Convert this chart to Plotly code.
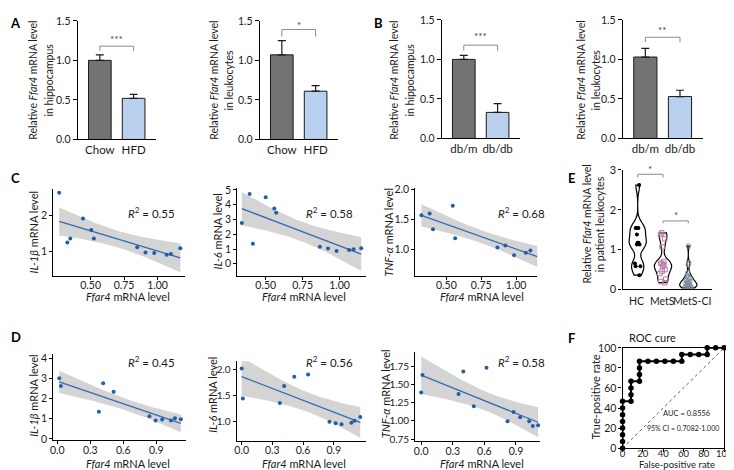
import numpy as np
import plotly.graph_objects as go

W, H = 734, 470
FONT = "Lato"
TXT = "#1a1a1a"

# ---------------- data ----------------
# Panel A (mean, SEM)
groups_A = ["Chow", "HFD"]
A_hippo_mean = [1.00, 0.52]
A_hippo_sem = [0.07, 0.05]
A_leuko_mean = [1.07, 0.61]
A_leuko_sem = [0.18, 0.07]
# Panel B
groups_B = ["db/m", "db/db"]
B_hippo_mean = [1.00, 0.33]
B_hippo_sem = [0.05, 0.11]
B_leuko_mean = [1.03, 0.53]
B_leuko_sem = [0.11, 0.08]

# Panel C (Ffar4 vs cytokines)
C_il1b_x = [0.265, 0.326, 0.348, 0.443, 0.505, 0.524, 0.848, 0.910, 0.975, 1.068, 1.100, 1.170]
C_il1b_y = [2.63, 1.24, 1.35, 1.91, 1.59, 1.35, 1.11, 0.96, 0.95, 0.90, 0.92, 1.08]
C_il6_x = [0.338, 0.391, 0.413, 0.500, 0.558, 0.571, 0.867, 0.922, 0.980, 1.065, 1.095, 1.147]
C_il6_y = [2.76, 4.73, 1.36, 4.51, 3.74, 3.46, 1.16, 1.03, 0.87, 0.93, 0.98, 1.05]
C_tnf_x = [0.321, 0.380, 0.404, 0.546, 0.563, 0.866, 0.923, 0.986, 1.070, 1.103, 1.157]
C_tnf_y = [1.57, 1.60, 1.34, 1.73, 1.19, 1.04, 1.07, 0.91, 0.95, 0.99, 0.95]
C_r2 = ["0.55", "0.58", "0.68"]

# Panel D
D_il1b_x = [0.018, 0.033, 0.378, 0.417, 0.512, 0.837, 0.893, 0.953, 1.033, 1.069, 1.122]
D_il1b_y = [3.01, 2.63, 1.35, 2.77, 2.34, 1.12, 0.91, 0.96, 0.91, 1.02, 0.98]
D_il6_x = [0.000, 0.012, 0.373, 0.415, 0.514, 0.649, 0.858, 0.918, 0.976, 1.072, 1.103, 1.159]
D_il6_y = [2.03, 1.45, 1.36, 1.69, 1.87, 1.91, 1.00, 0.97, 0.95, 0.98, 1.02, 1.09]
D_tnf_x = [0.000, 0.012, 0.355, 0.400, 0.500, 0.620, 0.820, 0.877, 0.940, 1.025, 1.060, 1.110]
D_tnf_y = [1.39, 1.63, 1.37, 1.68, 1.20, 1.73, 0.995, 1.12, 1.05, 0.995, 0.93, 0.94]
D_r2 = ["0.45", "0.56", "0.58"]

# Panel E (patient leukocytes)
E_groups = ["HC", "MetS", "MetS-CI"]
E_HC = [2.62, 1.54, 1.54, 1.54, 1.38, 1.17, 1.17, 1.13, 1.13, 0.65, 0.58, 0.58, 0.36]
E_MetS = [1.42, 1.38, 1.27, 1.07, 0.70, 0.66, 0.64, 0.62, 0.58, 0.50, 0.46, 0.40, 0.26, 0.20, 0.17]
E_MetSCI = [1.09, 0.67, 0.62, 0.42, 0.35, 0.30, 0.28, 0.25, 0.22, 0.20, 0.18, 0.16, 0.15,
            0.13, 0.12, 0.10, 0.09, 0.08, 0.07, 0.06, 0.05, 0.04]

# Panel F (ROC)
roc_fpr = [0, 0, 0, 0, 0, 0, 0, 0, 8.33, 8.33, 8.33, 8.33, 16.67, 16.67, 16.67, 16.67,
           25, 33.33, 41.67, 50, 58.33, 58.33, 66.67, 75, 83.33, 83.33, 91.67, 100]
roc_tpr = [0, 6.67, 13.33, 20, 26.67, 33.33, 40, 46.67, 46.67, 53.33, 60, 66.67, 66.67, 73.33, 80, 86.67,
           86.67, 86.67, 86.67, 86.67, 86.67, 93.33, 93.33, 93.33, 93.33, 100, 100, 100]

T95 = {8: 2.306, 9: 2.262, 10: 2.228, 11: 2.201, 12: 2.179}

# ---------------- figure ----------------
fig = go.Figure()
shapes = []
annos = []


def axis_pair(n, xpx, ypx, xrange, yrange, xt=None, yt=None):
    sx = "" if n == 1 else str(n)
    common = dict(showline=True, linecolor="black", linewidth=1.2, ticks="outside", ticklen=3,
                  tickwidth=1.1, tickcolor="black", showgrid=False, zeroline=False,
                  tickfont=dict(family=FONT, size=10.5, color=TXT), fixedrange=True)
    xa = dict(common, domain=[xpx[0] / W, xpx[1] / W], range=xrange, anchor="y" + sx)
    ya = dict(common, domain=[1 - ypx[1] / H, 1 - ypx[0] / H], range=yrange, anchor="x" + sx)
    if xt:
        xa.update(xt)
    if yt:
        ya.update(yt)
    fig.update_layout(**{"xaxis" + sx: xa, "yaxis" + sx: ya})
    return "x" + sx, "y" + sx


def ann(text, x, y, size=11, angle=0, bold=False, color=TXT, xanchor="center"):
    if bold:
        text = "<b>" + text + "</b>"
    annos.append(dict(text=text, x=x / W, y=1 - y / H, xref="paper", yref="paper", showarrow=False,
                      textangle=angle, xanchor=xanchor, yanchor="middle", borderpad=0,
                      font=dict(family=FONT, size=size, color=color)))


def bracket(xr, yr, x0, x1, ytop, ybot, text, ytext_px):
    ln = dict(color="#8c8c8c", width=1)
    shapes.append(dict(type="line", xref=xr, yref=yr, x0=x0, x1=x1, y0=ytop, y1=ytop, line=ln))
    shapes.append(dict(type="line", xref=xr, yref=yr, x0=x0, x1=x0, y0=ytop, y1=ybot, line=ln))
    shapes.append(dict(type="line", xref=xr, yref=yr, x0=x1, x1=x1, y0=ytop, y1=ybot, line=ln))
    annos.append(dict(text=text, x=(x0 + x1) / 2, y=1 - ytext_px / H, xref=xr, yref="paper",
                      showarrow=False, font=dict(family=FONT, size=10, color="#444"), yanchor="middle"))


BAR_COLORS = ["#737373", "#b9d1ee"]


def bar_panel(n, xpx, ypx, groups, mean, sem):
    xr, yr = axis_pair(n, xpx, ypx, [-0.65, 1.65], [0, 1.5],
                       xt=dict(type="category", ticks="", tickfont=dict(family=FONT, size=11.5, color=TXT)),
                       yt=dict(tickformat=".1f", dtick=0.5, ticklen=4))
    fig.add_trace(go.Bar(x=groups, y=mean, width=0.67, marker=dict(color=BAR_COLORS,
                         line=dict(color="#1a1a1a", width=1)),
                         error_y=dict(type="data", symmetric=False, array=sem, arrayminus=[0] * len(sem),
                                      color="#1a1a1a", thickness=1.2, width=4),
                         xaxis=xr, yaxis=yr))
    return xr, yr


# Panel A
xr, yr = bar_panel(1, (68, 147), (6, 128), groups_A, A_hippo_mean, A_hippo_sem)
bracket(xr, yr, 0, 1, 1.18, 1.12, "***", 25)
xr, yr = bar_panel(2, (253, 332), (6, 128), groups_A, A_leuko_mean, A_leuko_sem)
bracket(xr, yr, 0, 1, 1.39, 1.30, "*", 10)
# Panel B
xr, yr = bar_panel(3, (438, 517), (5, 127), groups_B, B_hippo_mean, B_hippo_sem)
bracket(xr, yr, 0, 1, 1.18, 1.11, "***", 22)
xr, yr = bar_panel(4, (622, 703), (5, 127), groups_B, B_leuko_mean, B_leuko_sem)
bracket(xr, yr, 0, 1, 1.28, 1.22, "**", 15)

for (x1, x2, yc, l2) in [(23, 39, 67, "in hippocampus"), (207, 222, 67, "in leukocytes"),
                         (390, 406, 67, "in hippocampus"), (580, 595, 67, "in leukocytes")]:
    ann("Relative <i>Ffar4</i> mRNA level", x1, yc, size=10.5, angle=-90)
    ann(l2, x2, yc, size=10.5, angle=-90)


def fit_band(x, y):
    x = np.asarray(x, float)
    y = np.asarray(y, float)
    n = len(x)
    b, a = np.polyfit(x, y, 1)
    xs = np.linspace(x.min(), x.max(), 80)
    yhat = a + b * xs
    resid = y - (a + b * x)
    s = np.sqrt(np.sum(resid ** 2) / (n - 2))
    sxx = np.sum((x - x.mean()) ** 2)
    se = s * np.sqrt(1.0 / n + (xs - x.mean()) ** 2 / sxx)
    t = T95[n - 2]
    return xs, yhat, yhat - t * se, yhat + t * se


def scatter_panel(n, xpx, ypx, xrange, yrange, x, y, xt, yt):
    xr, yr = axis_pair(n, xpx, ypx, xrange, yrange, xt=xt, yt=yt)
    xs, yh, lo, hi = fit_band(x, y)
    fig.add_trace(go.Scatter(x=np.concatenate([xs, xs[::-1]]), y=np.concatenate([hi, lo[::-1]]),
                             fill="toself", fillcolor="rgba(185,185,185,0.62)", line=dict(width=0),
                             mode="lines", hoverinfo="skip", xaxis=xr, yaxis=yr))
    fig.add_trace(go.Scatter(x=xs, y=yh, mode="lines", line=dict(color="#2f6cb3", width=1.3),
                             xaxis=xr, yaxis=yr))
    fig.add_trace(go.Scatter(x=x, y=y, mode="markers", marker=dict(color="#1f5ea8", size=4),
                             cliponaxis=False, xaxis=xr, yaxis=yr))


xC = dict(tickvals=[0.5, 0.75, 1.0], tickformat=".2f", ticklabelstandoff=-3)
scatter_panel(5, (43, 177), (179, 268), [0.221, 1.206], [0.32, 2.73], C_il1b_x, C_il1b_y,
              xC, dict(tickvals=[1, 2]))
scatter_panel(6, (230, 361), (178, 268), [0.307, 1.18], [-0.80, 5.13], C_il6_x, C_il6_y,
              xC, dict(tickvals=[0, 1, 2, 3, 4, 5]))
scatter_panel(7, (411, 535), (178, 268), [0.277, 1.152], [0.574, 2.02], C_tnf_x, C_tnf_y,
              xC, dict(tickvals=[1.0, 1.5, 2.0], tickformat=".1f"))

xD = dict(tickvals=[0.0, 0.3, 0.6, 0.9], tickformat=".1f", ticklabelstandoff=-3)
scatter_panel(8, (43, 178), (349, 437), [-0.036, 1.17], [-0.05, 4.2], D_il1b_x, D_il1b_y,
              xD, dict(tickvals=[0, 1, 2, 3, 4]))
scatter_panel(9, (229.5, 361), (356, 437.7), [-0.048, 1.216], [0.636, 2.17], D_il6_x, D_il6_y,
              xD, dict(tickvals=[1.0, 1.5, 2.0], tickformat=".1f", tickfont=dict(family=FONT, size=10, color=TXT)))
scatter_panel(10, (411, 538), (346.7, 438.3), [-0.056, 1.13], [0.72, 1.945], D_tnf_x, D_tnf_y,
              xD, dict(tickvals=[0.75, 1.0, 1.25, 1.5, 1.75], tickformat=".2f",
                       tickfont=dict(family=FONT, size=10, color=TXT)))

ytitles_C = ["<i>IL-1β</i> mRNA level", "<i>IL-6</i> mRNA level", "<i>TNF-α</i> mRNA level"]
for xt_, t_, r2, xr2, xx in zip([23, 210, 384], ytitles_C, C_r2, [143, 324, 519], [119, 298, 479]):
    ann(t_, xt_, 223, size=11, angle=-90)
    ann("<i>R</i><sup>2</sup> = " + r2, xr2, 203, size=11.5)
    ann("<i>Ffar4</i> mRNA level", xx, 290, size=11)
for xt_, t_, r2, xr2, xx, yc in zip([23, 205, 380], ytitles_C, D_r2, [143, 324, 519], [119, 298, 479],
                                    [391, 391, 389]):
    ann(t_, xt_, yc, size=11, angle=-90)
    ann("<i>R</i><sup>2</sup> = " + r2, xr2, 356, size=11.5)
    ann("<i>Ffar4</i> mRNA level", xx, 461, size=11)

# Panel E
xr, yr = axis_pair(11, (621.7, 713), (159.3, 282.3), [-0.6, 2.95], [0, 3.0],
                   xt=dict(type="category", tickangle=0, ticks="", showticklabels=False),
                   yt=dict(tickvals=[0, 1, 2, 3], tickfont=dict(family=FONT, size=11, color=TXT)))
e_styles = [
    (E_HC, dict(color="black", size=4, symbol="circle"), 0.16),
    (E_MetS, dict(color="#b77aa6", size=4.5, symbol="square-open", line=dict(width=1)), 0.12),
    (E_MetSCI, dict(color="#7f8da0", size=4.5, symbol="circle-open", line=dict(width=1)), 0.07),
]
for g, (vals, mk, bw) in zip(E_groups, e_styles):
    fig.add_trace(go.Violin(x=[g] * len(vals), y=vals, points="all", pointpos=0, jitter=0.45,
                            line=dict(color="black", width=1.2), fillcolor="white", marker=mk,
                            spanmode="hard", width=0.68, bandwidth=bw, scalemode="width",
                            box=dict(visible=False), meanline=dict(visible=False),
                            xaxis=xr, yaxis=yr))
for g, lx in zip(E_groups, [636, 662, 692]):
    ann(g, lx, 294, size=10.5)
bracket(xr, yr, 0, 1, 2.89, 2.81, "*", 158)
bracket(xr, yr, 1, 2, 1.72, 1.66, "*", 206)
ann("Relative <i>Ffar4</i> mRNA level", 586, 215, size=10.5, angle=-90)
ann("in patient leukocytes", 599, 215, size=10.5, angle=-90)

# Panel F
fx = dict(mirror=True, tickvals=[0, 20, 40, 60, 80, 100], ticklabelstandoff=-7,
          tickfont=dict(family=FONT, size=9.5, color=TXT))
fy = dict(mirror=True, tickvals=[0, 20, 40, 60, 80, 100], tickfont=dict(family=FONT, size=10.5, color=TXT))
xr, yr = axis_pair(12, (621.7, 725), (342.3, 445.5), [0, 100], [0, 100], xt=fx, yt=fy)
shapes.append(dict(type="line", xref=xr, yref=yr, x0=0, y0=0, x1=100, y1=100,
                   line=dict(color="#333", width=0.8, dash="dot")))
fig.add_trace(go.Scatter(x=roc_fpr, y=roc_tpr, mode="lines+markers", line=dict(color="black", width=2),
                         marker=dict(color="black", size=5.5), cliponaxis=False, xaxis=xr, yaxis=yr))
ann("ROC cure", 652, 332, size=11)
ann("AUC = 0.8556", 687, 410, size=7.5)
ann("95% CI = 0.7082-1.000", 683, 425, size=7)
ann("True-positive rate", 594, 393, size=11, angle=-90)
ann("False-positive rate", 677, 462.5, size=9.5)

# panel letters
for lt, x, y in [("A", 5, 8), ("B", 374, 8), ("C", 5, 168), ("D", 5, 331), ("E", 570, 168), ("F", 570, 332)]:
    ann(lt, x, y, size=13, bold=True, color="black")

fig.update_layout(width=W, height=H, margin=dict(l=0, r=0, t=0, b=0), paper_bgcolor="white",
                  plot_bgcolor="white", showlegend=False, shapes=shapes, annotations=annos,
                  font=dict(family=FONT, size=11, color=TXT), bargap=0.3)
fig.write_html("out.html")
